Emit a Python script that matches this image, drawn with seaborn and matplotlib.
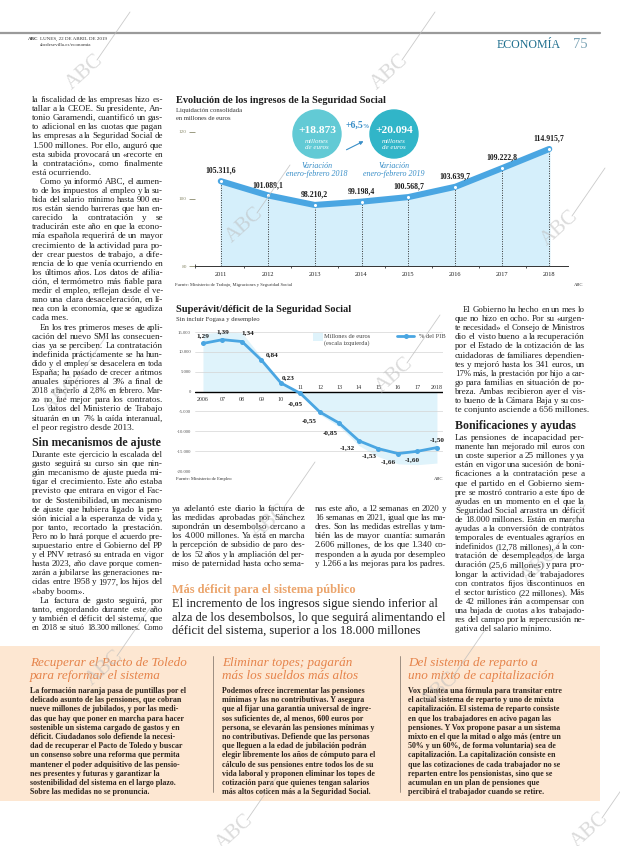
import numpy as np
import pandas as pd
import seaborn as sns
import matplotlib
matplotlib.use("Agg")
import matplotlib.pyplot as plt
from matplotlib.patches import Ellipse, Rectangle, FancyArrowPatch
from matplotlib.lines import Line2D
from matplotlib.font_manager import FontProperties

# ---------------- DATA ----------------
years_ing = [2011, 2012, 2013, 2014, 2015, 2016, 2017, 2018]
ingresos = [105311.6, 101089.1, 98210.2, 99198.4, 100568.7, 103639.7, 109222.8, 114915.7]
ing_labels = ["105.311,6", "101.089,1", "98.210,2", "99.198,4", "100.568,7",
              "103.639,7", "109.222,8", "114.915,7"]
ing_yticks = [80, 100, 120]

years_def = list(range(2006, 2019))
year_def_labels = ["2006", "07", "08", "09", "10", "11", "12", "13", "14", "15", "16", "17", "2018"]
saldo_meur = [14600, 15000, 14800, 8600, 2200, -600, -5800, -8900, -13600, -16400, -18200, -18400, -18000]
pct_pib = [1.29, 1.39, 1.34, 0.84, 0.23, -0.05, -0.55, -0.85, -1.32, -1.53, -1.66, -1.60, -1.50]
pct_labels = ["1,29", "1,39", "1,34", "0,84", "0,23", "-0,05", "-0,55", "-0,85", "-1,32",
              "-1,53", "-1,66", "-1,60", "-1,50"]
def_yticks = [15000, 10000, 5000, 0, -5000, -10000, -15000, -20000]
def_ytick_labels = ["15.000", "10.000", "5.000", "0", "-5.000", "-10.000", "-15.000", "-20.000"]

# ---------------- TEXT ----------------
left_col = [
    (False, ["la fiscalidad de las empresas hizo es-", "tallar a la CEOE. Su presidente, An-",
             "tonio Garamendi, cuantificó un gas-", "to adicional en las cuotas que pagan",
             "las empresas a la Seguridad Social de", "1.500 millones. Por ello, auguró que",
             "esta subida provocará un «recorte en", "la contratación», como finalmente",
             "está ocurriendo."], False),
    (True, ["Como ya informó ABC, el aumen-", "to de los impuestos al empleo y la su-",
            "bida del salario mínimo hasta 900 eu-", "ros están siendo barreras que han en-",
            "carecido la contratación y se", "traducirán este año en que la econo-",
            "mía española requerirá de un mayor", "crecimiento de la actividad para po-",
            "der crear puestos de trabajo, a dife-", "rencia de lo que venía ocurriendo en",
            "los últimos años. Los datos de afilia-", "ción, el termómetro más fiable para",
            "medir el empleo, reflejan desde el ve-", "rano una clara desaceleración, en lí-",
            "nea con la economía, que se agudiza", "cada mes."], False),
    (True, ["En los tres primeros meses de apli-", "cación del nuevo SMI las consecuen-",
            "cias ya se perciben. La contratación", "indefinida prácticamente se ha hun-",
            "dido y el empleo se desacelera en toda", "España; ha pasado de crecer a ritmos",
            "anuales superiores al 3% a final de", "2018 a hacerlo al 2,8% en febrero. Mar-",
            "zo no fue mejor para los contratos.", "Los datos del Ministerio de Trabajo",
            "situarán en un 7% la caída interanual,", "el peor registro desde 2013."], False),
]
left_head = "Sin mecanismos de ajuste"
left_col2 = [
    (False, ["Durante este ejercicio la escalada del", "gasto seguirá su curso sin que nin-",
             "gún mecanismo de ajuste pueda mi-", "tigar el crecimiento. Este año estaba",
             "previsto que entrara en vigor el Fac-", "tor de Sostenibilidad, un mecanismo",
             "de ajuste que hubiera ligado la pen-", "sión inicial a la esperanza de vida y,",
             "por tanto, recortado la prestación.", "Pero no lo hará porque el acuerdo pre-",
             "supuestario entre el Gobierno del PP", "y el PNV retrasó su entrada en vigor",
             "hasta 2023, año clave porque comen-", "zarán a jubilarse las generaciones na-",
             "cidas entre 1958 y 1977, los hijos del", "«baby boom»."], False),
    (True, ["La factura de gasto seguirá, por", "tanto, engordando durante este año",
            "y también el déficit del sistema, que", "en 2018 se situó 18.300 millones. Como"], True),
]
mid_a = [(False, ["ya adelantó este diario la factura de", "las medidas aprobadas por Sánchez",
                  "supondrán un desembolso cercano a", "los 4.000 millones. Ya está en marcha",
                  "la percepción de subsidio de paro des-", "de los 52 años y la ampliación del per-",
                  "miso de paternidad hasta ocho sema-"], True)]
mid_b = [(False, ["nas este año, a 12 semanas en 2020 y", "16 semanas en 2021, igual que las ma-",
                  "dres. Son las medidas estrellas y tam-", "bién las de mayor cuantía: sumarán",
                  "2.606 millones, de los que 1.340 co-", "rresponden a la ayuda por desempleo",
                  "y 1.266 a las mejoras para los padres."], True)]
right_col = [(True, ["El Gobierno ha hecho en un mes lo", "que no hizo en ocho. Por su «urgen-",
                     "te necesidad» el Consejo de Ministros", "dio el visto bueno a la recuperación",
                     "por el Estado de la cotización de las", "cuidadoras de familiares dependien-",
                     "tes y mejoró hasta los 341 euros, un", "17% más, la prestación por hijo a car-",
                     "go para familias en situación de po-", "breza. Ambas recibieron ayer el vis-",
                     "to bueno de la Cámara Baja y su cos-", "te conjunto asciende a 656 millones."], False)]
right_head = "Bonificaciones y ayudas"
right_col2 = [(False, ["Las pensiones de incapacidad per-", "manente han mejorado mil euros con",
                       "un coste superior a 25 millones y ya", "están en vigor una sucesión de boni-",
                       "ficaciones a la contratación pese a", "que el partido en el Gobierno siem-",
                       "pre se mostró contrario a este tipo de", "ayudas en un momento en el que la",
                       "Seguridad Social arrastra un déficit", "de 18.000 millones. Están en marcha",
                       "ayudas a la conversión de contratos", "temporales de eventuales agrarios en",
                       "indefinidos (12,78 millones), a la con-", "tratación de desempleados de larga",
                       "duración (25,6 millones) y para pro-", "longar la actividad de trabajadores",
                       "con contratos fijos discontinuos en", "el sector turístico (22 millones). Más",
                       "de 42 millones irán a compensar con", "una bajada de cuotas a los trabajado-",
                       "res del campo por la repercusión ne-", "gativa del salario mínimo."], False)]
kicker = "Más déficit para el sistema público"
deck = ["El incremento de los ingresos sigue siendo inferior al",
        "alza de los desembolsos, lo que seguirá alimentando el",
        "déficit del sistema, superior a los 18.000 millones"]
box_titles = [["Recuperar el Pacto de Toledo", "para reformar el sistema"],
              ["Eliminar topes; pagarán", "más los sueldos más altos"],
              ["Del sistema de reparto a", "uno mixto de capitalización"]]
box_texts = [
    ["La formación naranja pasa de puntillas por el", "delicado asunto de las pensiones, que cobran",
     "nueve millones de jubilados, y por las medi-", "das que hay que poner en marcha para hacer",
     "sostenible un sistema cargado de gastos y en", "déficit. Ciudadanos solo defiende la necesi-",
     "dad de recuperar el Pacto de Toledo y buscar", "un consenso sobre una reforma que permita",
     "mantener el poder adquisitivo de las pensio-", "nes presentes y futuras y garantizar la",
     "sostenibilidad del sistema en el largo plazo.", "Sobre las medidas no se pronuncia."],
    ["Podemos ofrece incrementar las pensiones", "mínimas y las no contributivas. Y asegura",
     "que al fijar una garantía universal de ingre-", "sos suficientes de, al menos, 600 euros por",
     "persona, se elevarán las pensiones mínimas y", "no contributivas. Defiende que las personas",
     "que lleguen a la edad de jubilación podrán", "elegir libremente los años de cómputo para el",
     "cálculo de sus pensiones entre todos los de su", "vida laboral y proponen eliminar los topes de",
     "cotización para que quienes tengan salarios", "más altos coticen más a la Seguridad Social."],
    ["Vox plantea una fórmula para transitar entre", "el actual sistema de reparto y uno de mixta",
     "capitalización. El sistema de reparto consiste", "en que los trabajadores en acivo pagan las",
     "pensiones. Y Vox propone pasar a un sistema", "mixto en el que la mitad o algo más (entre un",
     "50% y un 60%, de forma voluntaria) sea de", "capitalización. La capitalización consiste en",
     "que las cotizaciones de cada trabajador no se", "reparten entre los pensionistas, sino que se",
     "acumulan en un plan de pensiones que", "percibirá el trabajador cuando se retire."],
]

# ---------------- FIGURE ----------------
sns.set_theme(style="white")
plt.rcParams["font.family"] = ["Liberation Serif", "DejaVu Serif"]
W, H = 620, 846
fig = plt.figure(figsize=(6.2, 8.46), dpi=100)
fig.patch.set_facecolor("white")
renderer = fig.canvas.get_renderer()
BODY_FONT = "Liberation Serif"

def fx(x):
    return x / W

def fy(y):
    return 1 - y / H

def twidth(s, size, weight="normal", style="normal", family="Liberation Serif"):
    fp = FontProperties(family=[family], size=size, weight=weight, style=style)
    w, h, d = renderer.get_text_width_height_descent(s, fp, ismath=False)
    return w

def fit_size(s, width, weight="normal", style="normal", family="Liberation Serif"):
    return 10 * width / twidth(s, 10, weight, style, family)

TXT = "#202020"
MINGAP = 1.6

def justify_line(s, x0, x1, y, size, color=TXT):
    words = s.split()
    if len(words) < 2:
        fig.text(fx(x0), fy(y), s, fontsize=size, family=BODY_FONT, color=color, va="baseline")
        return
    ws = [twidth(w_, size) for w_ in words]
    avail = x1 - x0 - MINGAP * (len(words) - 1)
    if sum(ws) > avail:
        size = size * avail / sum(ws)
        ws = [twidth(w_, size) for w_ in words]
    gap = (x1 - x0 - sum(ws)) / (len(words) - 1)
    x = x0
    for w_, wd in zip(words, ws):
        fig.text(fx(x), fy(y), w_, fontsize=size, family=BODY_FONT, color=color, va="baseline")
        x += wd + gap

def draw_column(paras, x0, x1, y0, dy, size, indent=8):
    y = y0
    for ind, lines, cont in paras:
        for i, ln in enumerate(lines):
            xs = x0 + (indent if (ind and i == 0) else 0)
            last = (i == len(lines) - 1) and not cont
            if last:
                fig.text(fx(xs), fy(y), ln, fontsize=size, family=BODY_FONT, color=TXT, va="baseline")
            else:
                justify_line(ln, xs, x1, y, size)
            y += dy
    return y

def col_sizes(paras, width):
    out = []
    for ind, lines, cont in paras:
        for i, ln in enumerate(lines):
            if i == len(lines) - 1 and not cont:
                continue
            out.append(fit_size(ln, width))
    return out

# ---------------- HEADER ----------------
fig.add_artist(Line2D([fx(0), fx(600)], [fy(33), fy(33)], color="#9a9a9a", lw=1.6))
fig.text(fx(28), fy(40), "ABC", fontsize=3.6, fontweight="bold", color="#333")
fig.text(fx(40), fy(40), "LUNES, 22 DE ABRIL DE 2019", fontsize=3.6, color="#333")
fig.text(fx(40), fy(46), "abcdesevilla.es/economia", fontsize=3.6, color="#333")
fig.text(fx(497), fy(48), "ECONOMÍA", fontsize=fit_size("ECONOMÍA", 64), color="#1f6f8e")
fig.text(fx(573), fy(48), "75", fontsize=10.5, color="#7aa3b5")

# ---------------- BODY COLUMNS ----------------
DY = 9.1
sizes = col_sizes(left_col + left_col2, 131) + col_sizes(right_col + right_col2, 130)
body_size = float(np.percentile(sizes, 55))
body_size = max(min(body_size, 6.6), 5.2)
draw_column(left_col, 32, 163, 102, DY, body_size)
hs = fit_size(left_head, 130, "bold")
fig.text(fx(32), fy(446), left_head, fontsize=hs, fontweight="bold", color="#222")
draw_column(left_col2, 32, 163, 457, DY, body_size)
draw_column(right_col, 455, 585, 312, DY, body_size)
fig.text(fx(455), fy(429), right_head, fontsize=hs, fontweight="bold", color="#222")
draw_column(right_col2, 455, 585, 440, DY, body_size)
draw_column(mid_a, 172, 305, 511, DY, body_size)
draw_column(mid_b, 315, 446, 511, DY, body_size)

fig.text(fx(172), fy(593), kicker, fontsize=fit_size(kicker, 185, "bold"), fontweight="bold", color="#eba46b")
ds = fit_size(deck[1], 274)
for i, ln in enumerate(deck):
    fig.text(fx(172), fy(607 + i * 13.5), ln, fontsize=ds, color="#1e1e1e")

# ---------------- CHART 1 ----------------
BLUE = "#4aa6e2"
ax1 = fig.add_axes([fx(195), fy(266), (568 - 195) / W, 137.4 / H])
ax1.patch.set_alpha(0)
d1 = pd.DataFrame({"year": years_ing, "val": [v / 1000 for v in ingresos]})
ax1.fill_between(d1["year"], d1["val"], 80, color="#d5effb", zorder=1)
ax1.vlines(d1["year"], 80, d1["val"], colors="#333", linestyles=(0, (1, 1.5)), lw=0.7, zorder=2)
sns.lineplot(data=d1, x="year", y="val", ax=ax1, color=BLUE, lw=4.4, zorder=3,
             solid_capstyle="round")
ax1.scatter(d1["year"], d1["val"], s=5, color="white", zorder=4, linewidths=0)
for xv, yv, lab in zip(d1["year"], d1["val"], ing_labels):
    ax1.annotate(lab, (xv, yv), xytext=(0, 4.5), textcoords="offset points", ha="center",
                 va="bottom", fontsize=5.6, fontweight="bold", color="#1a1a1a", zorder=6)
ax1.set_xlim(2010.45, 2018.4)
ax1.set_ylim(80, 121)
ax1.set_yticks(ing_yticks)
ax1.set_yticklabels([str(t) for t in ing_yticks], fontsize=3.8, color="#8c8c6e")
ax1.tick_params(axis="y", length=4.5, width=0.6, color="#8c8c6e", pad=1.5, left=True)
ax1.set_xticks(years_ing)
ax1.set_xticklabels([str(y) for y in years_ing], fontsize=4.6, color="#222")
ax1.set_xticks([y + 0.5 for y in years_ing[:-1]] + [2010.45], minor=True)
ax1.tick_params(axis="x", which="major", length=0, pad=4)
ax1.tick_params(axis="x", which="minor", length=2.5, width=0.6, color="#333", direction="inout", bottom=True)
for s in ["top", "right", "left"]:
    ax1.spines[s].set_visible(False)
ax1.spines["bottom"].set_color("#333")
ax1.spines["bottom"].set_linewidth(0.7)
ax1.set_xlabel("")
ax1.set_ylabel("")

fig.text(fx(176), fy(103), "Evolución de los ingresos de la Seguridad Social",
         fontsize=fit_size("Evolución de los ingresos de la Seguridad Social", 211, "bold"),
         fontweight="bold", color="#1d1d1d")
fig.text(fx(176), fy(112), "Liquidación consolidada", fontsize=4.8, color="#333")
fig.text(fx(176), fy(119.5), "en millones de euros", fontsize=4.8, color="#333")
fig.text(fx(175), fy(286), "Fuente: Ministerio de Trabajo, Migraciones y Seguridad Social", fontsize=3.3, color="#333")
fig.text(fx(583), fy(286), "ABC", fontsize=3.3, color="#333", ha="right")

for cx, col, num, sub in [(317, "#62cad5", "+18.873", "enero-febrero 2018"),
                          (394, "#31b5c8", "+20.094", "enero-febrero 2019")]:
    fig.add_artist(Ellipse((fx(cx), fy(134)), 48 / W, 48 / H, transform=fig.transFigure,
                           color=col, zorder=5))
    fig.text(fx(cx), fy(133), num, fontsize=8.2, fontweight="bold", color="white",
             ha="center", va="baseline", zorder=6)
    fig.text(fx(cx), fy(142.5), "millones", fontsize=5, style="italic", color="white",
             ha="center", va="baseline", zorder=6)
    fig.text(fx(cx), fy(149), "de euros", fontsize=5, style="italic", color="white",
             ha="center", va="baseline", zorder=6)
    fig.text(fx(cx), fy(168), "Variación", fontsize=5.8, style="italic", color="#3a8fc8",
             ha="center", va="baseline")
    fig.text(fx(cx), fy(176), sub, fontsize=5.8, style="italic", color="#3a8fc8",
             ha="center", va="baseline")
fig.text(fx(346), fy(128), "+6,5", fontsize=7, fontweight="bold", color="#3a8fc8", va="baseline")
fig.text(fx(362), fy(128), "%", fontsize=4.5, fontweight="bold", color="#3a8fc8", va="baseline")
fig.add_artist(FancyArrowPatch((fx(344), fy(151)), (fx(366), fy(140)), transform=fig.transFigure,
                               arrowstyle="-|>", mutation_scale=5, color="#3a8fc8", lw=0.8))

# ---------------- CHART 2 ----------------
ax2 = fig.add_axes([fx(195), fy(471), 248 / W, 139 / H])
ax2.patch.set_alpha(0)
d2 = pd.DataFrame({"year": years_def, "meur": saldo_meur, "pct": pct_pib})
ax2.fill_between(d2["year"], d2["meur"], 0, color="#dff3fb", zorder=1, lw=0)
ax2.set_ylim(-20000, 15000)
ax2.set_xlim(2005.59, 2018.31)
ax2.set_yticks(def_yticks)
ax2.set_yticklabels(def_ytick_labels, fontsize=3.4, color="#555")
ax2.tick_params(axis="y", length=0, pad=3)
ax2.set_xticks([])
for t in def_yticks:
    ax2.axhline(t, color="#000" if t == 0 else "#d4d4d4", lw=1.0 if t == 0 else 0.5, zorder=2)
for s in ax2.spines.values():
    s.set_visible(False)
for xv, lab in zip(years_def, year_def_labels):
    ax2.text(xv, -2100 if xv <= 2010 else 1100, lab, fontsize=4.3, ha="center", va="center",
             color="#333", zorder=3)
ax2b = ax2.twinx()
k = 9400.0
ax2b.set_ylim(-20000 / k, 15000 / k)
sns.lineplot(data=d2, x="year", y="pct", ax=ax2b, color=BLUE, lw=2.0, marker="o",
             markersize=3.6, markeredgewidth=0, zorder=4)
ax2b.set_axis_off()
offs = [(0, 6), (0, 6), (4, 6.5), (8, 4), (5, 4), (-4, -7), (-8, -6), (-7, -7),
        (-8, -5), (-7, -5), (-7, -6), (-4, -6), (0, 6)]
for xv, yv, lab, (dx, dyo) in zip(years_def, pct_pib, pct_labels, offs):
    ax2b.annotate(lab, (xv, yv), xytext=(dx, dyo), textcoords="offset points", ha="center",
                  va="center", fontsize=5.2, fontweight="bold", color="#1a1a1a", zorder=6)
ax2b.set_xlim(2005.59, 2018.31)

fig.text(fx(176), fy(312), "Superávit/déficit de la Seguridad Social",
         fontsize=fit_size("Superávit/déficit de la Seguridad Social", 176, "bold"),
         fontweight="bold", color="#1d1d1d")
fig.text(fx(176), fy(321), "Sin incluir Fogasa y desempleo", fontsize=4.8, color="#333")
fig.add_artist(Rectangle((fx(313), fy(341)), 10 / W, 8 / H, transform=fig.transFigure,
                         color="#dff3fb", lw=0))
fig.text(fx(324), fy(338), "Millones de euros", fontsize=4.6, color="#444")
fig.text(fx(324), fy(345), "(escala izquierda)", fontsize=4.6, color="#444")
fig.add_artist(Line2D([fx(397), fx(414)], [fy(336.5), fy(336.5)], color=BLUE, lw=2.0))
fig.add_artist(Line2D([fx(405.5)], [fy(336.5)], color=BLUE, marker="o", markersize=3.6,
                      markeredgewidth=0))
fig.text(fx(419), fy(338), "% del PIB", fontsize=4.6, color="#444")
fig.text(fx(176), fy(480), "Fuente: Ministerio de Empleo", fontsize=3.3, color="#333")
fig.text(fx(443), fy(480), "ABC", fontsize=3.3, color="#333", ha="right")

# ---------------- BOTTOM BOX ----------------
fig.add_artist(Rectangle((fx(0), fy(801)), 600 / W, 155 / H, transform=fig.transFigure,
                         color="#fde7d2", lw=0, zorder=0))
for xs in [213, 400]:
    fig.add_artist(Line2D([fx(xs), fx(xs)], [fy(656), fy(792)], color="#8c7f74", lw=0.6))
box_x = [(30, 186), (222, 393), (408, 586)]
bt = min(fit_size(box_texts[i][0], box_x[i][1] - box_x[i][0], "bold") for i in range(3))
ts = fit_size(box_titles[0][0], 156, style="italic")
for i in range(3):
    x0 = box_x[i][0]
    for j, ln in enumerate(box_titles[i]):
        fig.text(fx(x0), fy(666 + j * 13), ln, fontsize=ts, style="italic", color="#e5834a")
    for j, ln in enumerate(box_texts[i]):
        fig.text(fx(x0), fy(693 + j * 9.2), ln, fontsize=bt, fontweight="bold", color="#2e2620")

# ---------------- WATERMARKS ----------------
marks = [(85, 72), (390, 72), (245, 225), (560, 228), (395, 375), (62, 395), (270, 522),
         (540, 565), (105, 668), (440, 690), (235, 832), (590, 830)]
for cx, cy in marks:
    fig.text(fx(cx), fy(cy), "ABC", fontsize=15, rotation=42, color="#bdbdbd", alpha=0.55,
             ha="center", va="center", zorder=10)
    fig.add_artist(Line2D([fx(cx + 12), fx(cx + 45)], [fy(cy - 12), fy(cy - 60)],
                          color="#bdbdbd", lw=0.6, alpha=0.8, zorder=10))

fig.savefig("out.png", dpi=100)
